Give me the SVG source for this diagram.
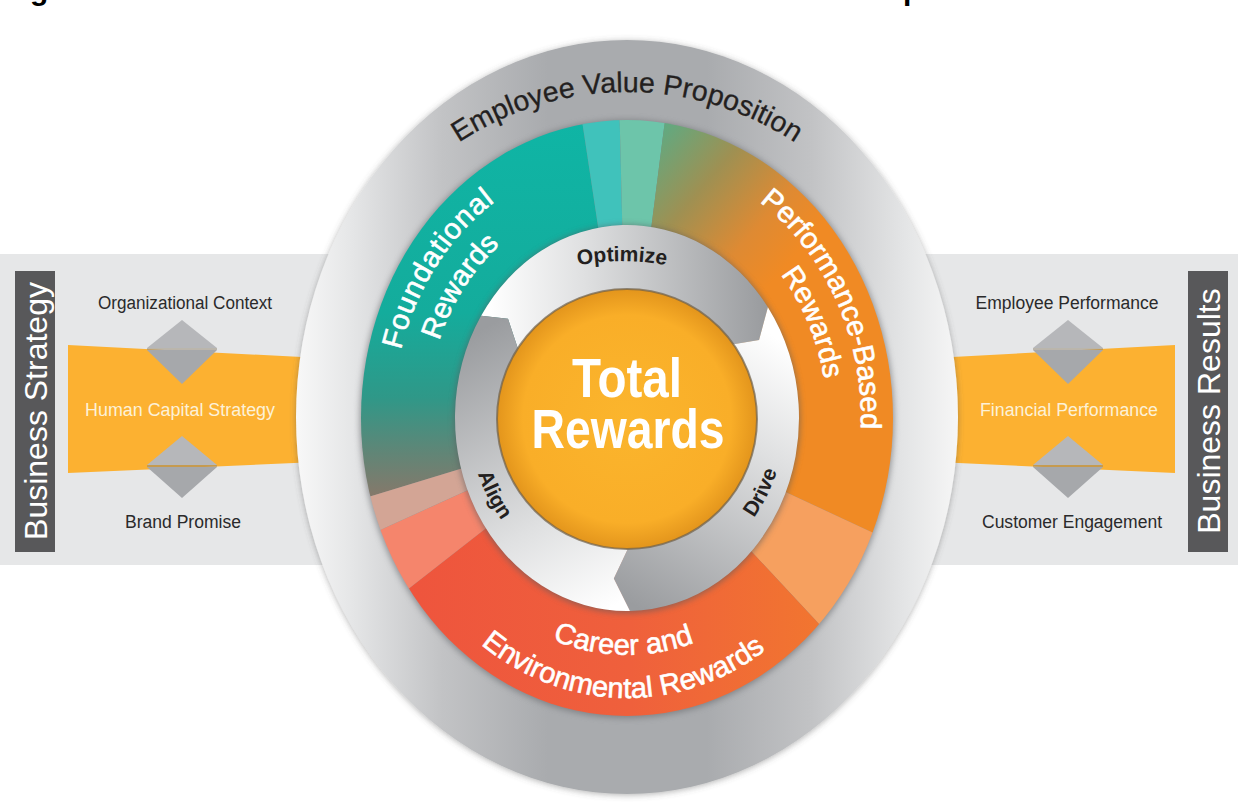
<svg xmlns="http://www.w3.org/2000/svg" width="1238" height="802" viewBox="0 0 1238 802">
<defs>
<style>
.lbl{font-family:"Liberation Sans",Arial,sans-serif;font-size:18px;fill:#2a2a2b;text-anchor:middle}
.lblw{font-family:"Liberation Sans",Arial,sans-serif;font-size:18px;fill:#fdf1d8;text-anchor:middle}
.box{fill:#58585a}
.boxt{font-family:"Liberation Sans",Arial,sans-serif;font-size:32px;fill:#ffffff;text-anchor:middle}
.band{fill:#e6e7e8}
.yel{fill:#fcb131}
.dt{fill:#b6b7ba}
.db{fill:#a6a8ab}
.dl{stroke:#8f8470;stroke-width:1}
.arc{font-family:"Liberation Sans",Arial,sans-serif;font-size:29px;fill:#ffffff;stroke:#ffffff;stroke-width:0.6;text-anchor:middle}
.ringt{font-family:"Liberation Sans",Arial,sans-serif;font-size:21px;font-weight:bold;fill:#231f20;text-anchor:middle}
.evp{font-family:"Liberation Sans",Arial,sans-serif;font-size:28.5px;fill:#231f20;stroke:#231f20;stroke-width:0.3;text-anchor:middle}
.big{font-family:"Liberation Sans",Arial,sans-serif;font-size:55px;font-weight:bold;fill:#ffffff;text-anchor:middle}
.frag{font-family:"Liberation Sans",Arial,sans-serif;font-size:30px;font-weight:bold;fill:#000000}
</style>
<filter id="sh" x="-10%" y="-10%" width="120%" height="120%"><feDropShadow dx="0" dy="1" stdDeviation="3" flood-color="#555555" flood-opacity="0.45"/></filter>
<filter id="blur" x="-10%" y="-10%" width="120%" height="120%"><feGaussianBlur stdDeviation="3"/></filter>
<linearGradient id="gOuter" gradientUnits="userSpaceOnUse" x1="296" y1="0" x2="958" y2="0">
<stop offset="0" stop-color="#f8f8f8"/><stop offset="0.08" stop-color="#e6e7e8"/><stop offset="0.22" stop-color="#c2c3c5"/><stop offset="0.38" stop-color="#a9abae"/><stop offset="0.62" stop-color="#a9abae"/><stop offset="0.78" stop-color="#c2c3c5"/><stop offset="0.92" stop-color="#e4e5e6"/><stop offset="1" stop-color="#f6f6f6"/>
</linearGradient>
<linearGradient id="gTeal" gradientUnits="userSpaceOnUse" x1="0" y1="120" x2="0" y2="505">
<stop offset="0" stop-color="#0fb5a5"/><stop offset="0.5" stop-color="#14ac9c"/><stop offset="0.72" stop-color="#2f9888"/><stop offset="0.86" stop-color="#5f8677"/><stop offset="1" stop-color="#8d7668"/>
</linearGradient>
<linearGradient id="gOrange" gradientUnits="userSpaceOnUse" x1="655" y1="125" x2="800" y2="250">
<stop offset="0" stop-color="#5aac86"/><stop offset="0.4" stop-color="#9f9052"/><stop offset="0.75" stop-color="#de8a33"/><stop offset="1" stop-color="#f08a24"/>
</linearGradient>
<linearGradient id="gRed" gradientUnits="userSpaceOnUse" x1="400" y1="0" x2="860" y2="0">
<stop offset="0" stop-color="#ee543d"/><stop offset="0.5" stop-color="#ef603c"/><stop offset="1" stop-color="#f27a2d"/>
</linearGradient>
<linearGradient id="gOpt" gradientUnits="userSpaceOnUse" x1="490" y1="335" x2="765" y2="325">
<stop offset="0" stop-color="#ffffff"/><stop offset="0.35" stop-color="#dfe0e1"/><stop offset="1" stop-color="#9a9c9f"/>
</linearGradient>
<linearGradient id="gDrv" gradientUnits="userSpaceOnUse" x1="780" y1="340" x2="625" y2="600">
<stop offset="0" stop-color="#ffffff"/><stop offset="0.35" stop-color="#dfe0e1"/><stop offset="1" stop-color="#9a9c9f"/>
</linearGradient>
<linearGradient id="gAln" gradientUnits="userSpaceOnUse" x1="625" y1="600" x2="480" y2="330">
<stop offset="0" stop-color="#ffffff"/><stop offset="0.35" stop-color="#dfe0e1"/><stop offset="1" stop-color="#9a9c9f"/>
</linearGradient>
<radialGradient id="gCore" cx="627" cy="419" r="130" gradientUnits="userSpaceOnUse">
<stop offset="0" stop-color="#fbb52d"/><stop offset="0.8" stop-color="#f9ae28"/><stop offset="1" stop-color="#e3951c"/>
</radialGradient>
<clipPath id="ringClip"><ellipse cx="627" cy="418" rx="266" ry="298"/></clipPath>
<path id="pEvp" d="M313,418 A314 326 0 0 1 941,418"/>
<path id="pOpt" d="M392,491 A230 230 0 0 1 852,491"/>
<path id="pAlign" d="M471.9,385.9 A158 168 0 0 0 570.4,574.8"/>
<path id="pDrive" d="M686.2,573.8 A158 168 0 0 0 781.5,383.1"/>
<path id="pFound" d="M393.5,435 A234 262 0 0 1 571.6,163.4"/>
<path id="pRewL" d="M427.4,432 A200 224 0 0 1 579.9,200.3"/>
<path id="pPerf" d="M718.4,176.8 A234 262 0 0 1 855,477"/>
<path id="pRewR" d="M709,213.7 A200 224 0 0 1 820.9,473"/>
<path id="pCareer" d="M488,596.8 A212 237 0 0 0 760.3,602.2"/>
<path id="pEnv" d="M434.3,594.2 A248 280 0 0 0 814.2,601.7"/>
</defs>

<rect x="0" y="0" width="1238" height="802" fill="#ffffff"/>
<text class="frag" x="30" y="0">g</text>
<text class="frag" x="903" y="0">p</text>

<g id="left-panel">
<rect class="band" x="0" y="254" width="340" height="311"/>
<polygon class="yel" points="68,345 340,359 340,461 68,473"/>
<rect class="box" x="15" y="271" width="40" height="281"/>
<text class="boxt" transform="translate(46.5,411) rotate(-90)">Business Strategy</text>
<text class="lbl" x="185" y="309" textLength="174" lengthAdjust="spacingAndGlyphs">Organizational Context</text>
<text class="lblw" x="180" y="416" textLength="190" lengthAdjust="spacingAndGlyphs">Human Capital Strategy</text>
<text class="lbl" x="183" y="528" textLength="116" lengthAdjust="spacingAndGlyphs">Brand Promise</text>
</g>

<g id="right-panel">
<rect class="band" x="915" y="254" width="323" height="311"/>
<polygon class="yel" points="915,359 1175,345 1175,473 915,461"/>
<rect class="box" x="1188" y="271" width="40" height="281"/>
<text class="boxt" transform="translate(1219.5,411) rotate(-90)">Business Results</text>
<text class="lbl" x="1067" y="309" textLength="183" lengthAdjust="spacingAndGlyphs">Employee Performance</text>
<text class="lblw" x="1069" y="416" textLength="178" lengthAdjust="spacingAndGlyphs">Financial Performance</text>
<text class="lbl" x="1072" y="528" textLength="180" lengthAdjust="spacingAndGlyphs">Customer Engagement</text>
</g>

<g id="connectors">
<g id="diamond-left-top"><polygon class="dt" points="182,320 217,348 147,348"/><polygon class="db" points="147,350 217,350 182,384"/><line class="dl" x1="147" y1="349" x2="217" y2="349"/></g>
<g id="diamond-left-bottom"><polygon class="dt" points="182,436 217,465 147,465"/><polygon class="db" points="147,467 217,467 182,498"/><line class="dl" x1="147" y1="466" x2="217" y2="466"/></g>
<g id="diamond-right-top"><polygon class="dt" points="1068,320 1103,348 1033,348"/><polygon class="db" points="1033,350 1103,350 1068,384"/><line class="dl" x1="1033" y1="349" x2="1103" y2="349"/></g>
<g id="diamond-right-bottom"><polygon class="dt" points="1068,436 1103,465 1033,465"/><polygon class="db" points="1033,467 1103,467 1068,498"/><line class="dl" x1="1033" y1="466" x2="1103" y2="466"/></g>
</g>

<g id="outer-ring">
<ellipse cx="627" cy="417" rx="331" ry="377" fill="url(#gOuter)" filter="url(#sh)"/>
<text class="evp"><textPath href="#pEvp" startOffset="50%">Employee Value Proposition</textPath></text>
</g>

<g id="reward-ring">
<ellipse cx="627" cy="419" rx="267" ry="299" fill="#6e7073" filter="url(#blur)" opacity="0.7"/>
<g clip-path="url(#ringClip)">
<path d="M627,418 L225.4,540.8 L213.4,345.1 L305.3,148 L449.5,37.4 L564.2,2.7 Z" fill="url(#gTeal)"/>
<path d="M627,418 L564.2,2.7 L616.7,-1.9 Z" fill="#40c2bb"/>
<path d="M627,418 L616.7,-1.9 L680.4,-0.6 Z" fill="#6dc5aa"/>
<path d="M627,418 L680.4,-0.6 L837,54.3 L990.7,208 L1047,418 L1007.6,595.5 Z" fill="url(#gOrange)"/>
<path d="M627,418 L1007.6,595.5 L913.4,725.2 Z" fill="#f6a05f"/>
<path d="M627,418 L913.4,725.2 L770.6,812.7 L627,838 L483.4,812.7 L357,739.7 L296,676.6 Z" fill="url(#gRed)"/>
<path d="M627,418 L296,676.6 L244.5,591.5 Z" fill="#f5856c"/>
<path d="M627,418 L244.5,591.5 L225.4,540.8 Z" fill="#d3a595"/>
</g>
<text class="arc"><textPath href="#pFound" startOffset="50%" letter-spacing="1">Foundational</textPath></text>
<text class="arc"><textPath href="#pRewL" startOffset="50%">Rewards</textPath></text>
<text class="arc"><textPath href="#pPerf" startOffset="50%">Performance-Based</textPath></text>
<text class="arc"><textPath href="#pRewR" startOffset="50%">Rewards</textPath></text>
<text class="arc"><textPath href="#pCareer" startOffset="50%">Career and</textPath></text>
<text class="arc"><textPath href="#pEnv" startOffset="50%">Environmental Rewards</textPath></text>
</g>

<g id="cycle-ring">
<ellipse cx="627" cy="419" rx="173" ry="194" fill="#5a5c5f" filter="url(#blur)" opacity="0.6"/>
<g id="optimize"><path d="M481.14,315.73 A172 193 0 0 1 767.9,307.3 L759.06,339.95 L731.85,344.58 A128 128 0 0 0 518.46,350.17 L508.01,318.87 Z" fill="url(#gOpt)"/>
<text class="ringt"><textPath href="#pOpt" startOffset="50%">Optimize</textPath></text></g>
<g id="drive"><path d="M767.9,307.3 A172 193 0 0 1 630,610.97 L613.84,578.39 L629.23,545.98 A128 128 0 0 0 731.85,344.58 L759.06,339.95 Z" fill="url(#gDrv)"/>
<text class="ringt"><textPath href="#pDrive" startOffset="50%">Drive</textPath></text></g>
<g id="align"><path d="M630,610.97 A172 193 0 0 1 481.14,315.73 L508.01,318.87 L518.46,350.17 A128 128 0 0 0 629.23,545.98 L613.84,578.39 Z" fill="url(#gAln)"/>
<text class="ringt"><textPath href="#pAlign" startOffset="50%">Align</textPath></text></g>
</g>

<g id="core">
<circle cx="627" cy="419" r="130" fill="url(#gCore)" stroke="#6e604a" stroke-width="2" stroke-opacity="0.7"/>
<text class="big" x="627" y="397" textLength="110" lengthAdjust="spacingAndGlyphs">Total</text>
<text class="big" x="628" y="448" textLength="193" lengthAdjust="spacingAndGlyphs">Rewards</text>
</g>
</svg>
